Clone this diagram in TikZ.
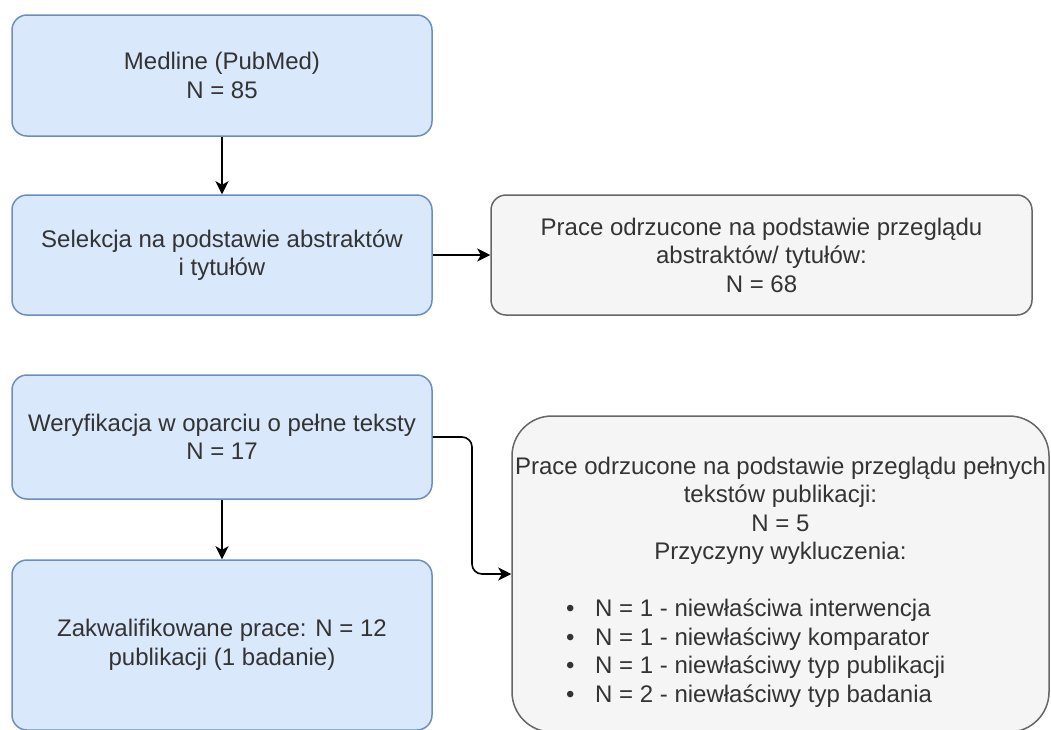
\documentclass[tikz,border=0pt]{standalone}
\usepackage{fontspec}
\setmainfont{Liberation Sans}
\usetikzlibrary{arrows.meta,calc}
\definecolor{bfill}{HTML}{DAE8FC}
\definecolor{bdraw}{HTML}{6C8EBF}
\definecolor{gfill}{HTML}{F5F5F5}
\definecolor{gdraw}{HTML}{666666}
\definecolor{txt}{HTML}{333333}
\tikzset{
  boxtext/.style={text=txt, font=\fontsize{24}{28.5}\selectfont, align=center, inner sep=0pt},
  bluebox/.style={boxtext, draw=bdraw, fill=bfill, line width=1.5pt, rounded corners=15pt, minimum width=420pt},
  graybox/.style={boxtext, draw=gdraw, fill=gfill, line width=1.5pt, rounded corners=15pt},
  conn/.style={line width=1.6pt, draw=black, -{Stealth[length=13pt,width=13pt,inset=3.5pt]}},
}
\begin{document}
\begin{tikzpicture}[x=1pt,y=-1pt]
\useasboundingbox (0,0) rectangle (1051,729);
\node[bluebox, minimum height=121pt] (b1) at (222,75.5) {Medline (PubMed)\\N = 85};
\node[bluebox, minimum height=120pt] (b2) at (222,255) {Selekcja na podstawie abstraktów\\i tytułów};
\node[bluebox, minimum height=124pt] (b3) at (222,437) {Weryfikacja w oparciu o pełne teksty\\N = 17};
\node[bluebox, minimum height=170pt] (b4) at (222,645) {Zakwalifikowane prace: N = 12\\publikacji (1 badanie)};
\node[graybox, minimum width=541pt, minimum height=120pt] (g1) at (761.5,255) {Prace odrzucone na podstawie przeglądu\\abstraktów/ tytułów:\\N = 68};
\node[graybox, rounded corners=40pt, minimum width=537pt, minimum height=316pt] (g2) at (780.5,574) {};
\node[boxtext] (g2t) at (780.5,511) {Prace odrzucone na podstawie przeglądu pełnych\\tekstów publikacji:\\N = 5\\Przyczyny wykluczenia:};
\node[boxtext, align=left, anchor=west] (g2l) at (566,653) {%
\makebox[29pt][l]{•}N = 1 - niewłaściwa interwencja\\
\makebox[29pt][l]{•}N = 1 - niewłaściwy komparator\\
\makebox[29pt][l]{•}N = 1 - niewłaściwy typ publikacji\\
\makebox[29pt][l]{•}N = 2 - niewłaściwy typ badania};
\coordinate (bend) at (472,500);
\draw[conn] (b1) -- (b2);
\draw[conn] (b2) -- (g1);
\draw[conn] (b3) -- (b4);
\draw[conn, rounded corners=10pt] (b3.east) -| (bend) |- (g2.west);
\end{tikzpicture}
\end{document}
